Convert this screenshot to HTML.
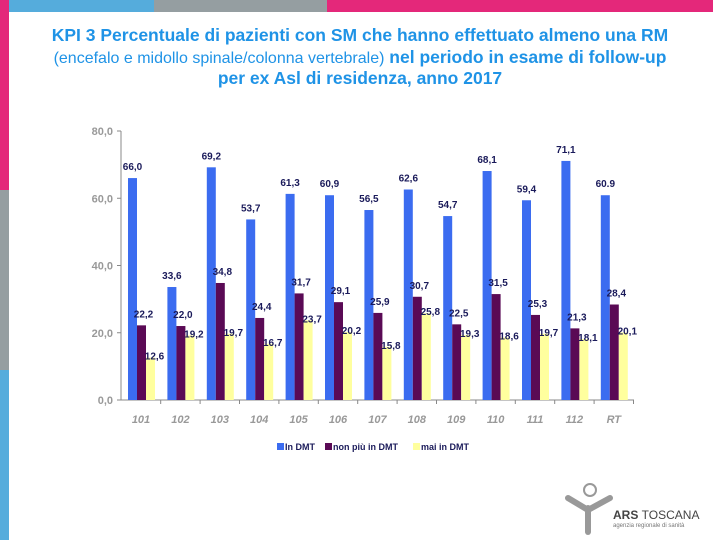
<!DOCTYPE html>
<html><head><meta charset="utf-8"><style>
body{margin:0;width:720px;height:540px;background:#fff;position:relative;overflow:hidden;font-family:"Liberation Sans",sans-serif}
.s{position:absolute}
.t{position:absolute;left:0;width:720px;text-align:center;color:#1f93e6;font-weight:bold;white-space:nowrap}
</style></head><body>
<div class="s" style="left:0;top:0;width:9px;height:190px;background:#e4287a"></div>
<div class="s" style="left:0;top:190px;width:9px;height:180px;background:#959ea1"></div>
<div class="s" style="left:0;top:370px;width:9px;height:170px;background:#55acdc"></div>
<div class="s" style="left:9px;top:0;width:145px;height:12px;background:#55acdc"></div>
<div class="s" style="left:154px;top:0;width:173px;height:12px;background:#959ea1"></div>
<div class="s" style="left:327px;top:0;width:386px;height:12px;background:#e4287a"></div>
<div class="t" style="top:25px;font-size:17.5px">KPI 3 Percentuale di pazienti con SM che hanno effettuato almeno una RM</div>
<div class="t" style="top:47px;font-size:17.5px"><span style="font-weight:normal;font-size:16px">(encefalo e midollo spinale/colonna vertebrale)</span> nel periodo in esame di follow-up</div>
<div class="t" style="top:68px;font-size:17.5px">per ex Asl di residenza, anno 2017</div>
<svg class="s" style="left:0;top:0" width="720" height="540">
<g id="g"></g>
</svg>
<div class="s" style="left:565px;top:480px;width:150px;height:55px">
<svg width="60" height="55" style="position:absolute;left:0;top:0">
<circle cx="25" cy="10" r="6" fill="none" stroke="#999" stroke-width="2"/>
<path d="M3 18 L23 30 L45 18" fill="none" stroke="#999" stroke-width="6" stroke-linecap="round"/>
<path d="M23 28 L23 52" stroke="#999" stroke-width="6" stroke-linecap="round"/>
</svg>
<div style="position:absolute;left:48px;top:28px;font-size:12px;color:#444;font-weight:bold">ARS <span style="font-weight:normal">TOSCANA</span></div>
<div style="position:absolute;left:48px;top:43px;font-size:6px;color:#777">agenzia regionale di sanità</div>
</div>
<script>
const categories=["101","102","103","104","105","106","107","108","109","110","111","112","RT"];
const inDMT=[66.0,33.6,69.2,53.7,61.3,60.9,56.5,62.6,54.7,68.1,59.4,71.1,60.9];
const nonPiu=[22.2,22.0,34.8,24.4,31.7,29.1,25.9,30.7,22.5,31.5,25.3,21.3,28.4];
const maiDMT=[12.6,19.2,19.7,16.7,23.7,20.2,15.8,25.8,19.3,18.6,19.7,18.1,20.1];
const inLbl=["66,0","33,6","69,2","53,7","61,3","60,9","56,5","62,6","54,7","68,1","59,4","71,1","60.9"];
const nonLbl=["22,2","22,0","34,8","24,4","31,7","29,1","25,9","30,7","22,5","31,5","25,3","21,3","28,4"];
const maiLbl=["12,6","19,2","19,7","16,7","23,7","20,2","15,8","25,8","19,3","18,6","19,7","18,1","20,1"];
const yTicks=[0,20,40,60,80];
const yTickLbl=["0,0","20,0","40,0","60,0","80,0"];
const NS="http://www.w3.org/2000/svg",g=document.getElementById('g');
const y=v=>400-v*3.3625, xc=i=>141+i*39.4;
function mk(t,a,txt){const e=document.createElementNS(NS,t);for(const k in a)e.setAttribute(k,a[k]);if(txt!=null)e.textContent=txt;g.appendChild(e);return e;}
let e=mk('line',{x1:121,x2:121,y1:131,y2:400,stroke:'#888'});

e=mk('line',{x1:121,x2:634,y1:400,y2:400,stroke:'#888'});

yTicks.forEach((v,i)=>{
 e=mk('line',{x1:117,x2:121,y1:y(v),y2:y(v),stroke:'#888'});
 
 e=mk('text',{x:113,y:y(v)+4,'text-anchor':'end','font-size':11,'font-weight':'bold',fill:'#999'},yTickLbl[i]);
 
});
const series=[[inDMT,inLbl,'#3b6cf0',-13],[nonPiu,nonLbl,'#5a0a55',-4],[maiDMT,maiLbl,'#ffff9e',5]];
categories.forEach((c,i)=>{
 const cx=xc(i);
 e=mk('line',{x1:cx+19.7,x2:cx+19.7,y1:400,y2:404,stroke:'#888'});
 
 e=mk('text',{x:cx,y:423,'text-anchor':'middle','font-size':11,'font-weight':'bold','font-style':'italic',fill:'#999'},c);
 
 series.forEach((s,k)=>{
  const v=s[0][i];
  e=mk('rect',{x:cx+s[3],y:y(v),width:9,height:400-y(v),fill:s[2]});
  
  e=mk('text',{x:cx+s[3]+4.5+(k==0?0:k==1?2:4),y:y(v)-(k==2?-2:8),'text-anchor':'middle','font-size':10,'font-weight':'bold',fill:'#1a1a5a'},s[1][i]);
  
 });
});
const leg=[["In DMT",'#3b6cf0',277],["non più in DMT",'#5a0a55',325],["mai in DMT",'#ffff9e',413]];
leg.forEach(l=>{
 e=mk('rect',{x:l[2],y:443,width:7,height:7,fill:l[1]});
 
 e=mk('text',{x:l[2]+8,y:450,'font-size':9,'font-weight':'bold',fill:'#1a1a5a'},l[0]);
 
});
</script>
</body></html>
